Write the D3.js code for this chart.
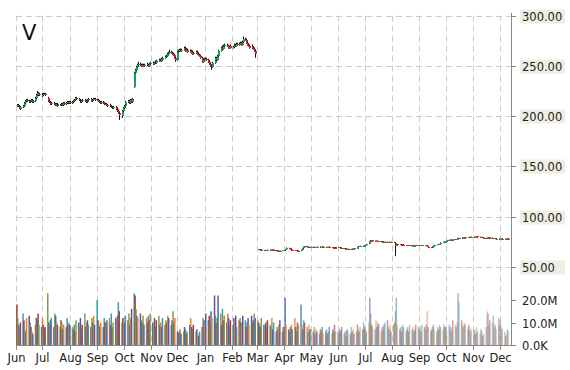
<!DOCTYPE html>
<html>
<head>
<meta charset="utf-8">
<script src="https://cdn.jsdelivr.net/npm/d3@7"></script>
<style>
body { margin: 0; background: #fff; }
svg text { font-family: "DejaVu Sans", Verdana, sans-serif; }
</style>
</head>
<body>
<svg id="chart" width="570" height="370"></svg>
<script>
var symbol = "V";

// trading days run Mon-Fri from Jun 2 2014 to Dec 11 2015
var firstDay = new Date(2014, 5, 2);
var lastDay = new Date(2015, 11, 11);

var priceTicks = [50, 100, 150, 200, 250, 300];
var volumeTicks = [0, 10, 20];
var volumeTickLabels = ["0.0K", "10.0M", "20.0M"];

// one line per month (pre split prices, then post split prices)
var opens = [
  210,211,210,208,207, 209,210,213,215,216, 215,214,215,216,214, 215,218,221,223,221, 222,
  220,221,222,222, 218,215,214,213,212, 213,212,211,212,210, 211,211,212,211,213, 212,213,214,213,
  214, 213,214,215,216,218, 217,216,215,214,215, 216,215,214,215,216, 217,215,216,217,217,
  216,216,215,214,213, 214,213,212,212,211, 210,211,210,209,208, 209,207,206,205,203, 200,205,
  208,210,212, 214,215,213,216,214, 229,243,246,249,251, 252,251,250,251,250, 251,252,251,250,252,
  253,252,253,254,253, 255,256,255,257,256, 258,259,260,262,263, 264,263,262,261,258,
  256,264,265,266,265, 266,268,267,265,266, 264,265,263,264,262, 263,264,262,261,260, 258,254,256,
  257,257, 256,254,252,250,249, 253,256,258,256,260, 265,268,269,267,270, 271,270,268,269,270,
  268,269,271,270,272, 271,272,273,271,274, 277,276,273,271,270, 268,270,268,267,265,
  66.8,67.2,67.0,66.8,67.1, 66.5,66.3,66.0,66.4,66.2, 66.6,66.9,66.5,67.0,66.8, 66.4,66.0,65.7,65.9,65.6, 65.8,66.2,
  66.0,66.3,67.5, 68.8,68.2,67.6,67.0,66.8, 66.5,66.2,65.8,65.6,66.0, 65.5,66.8,68.5,69.8,70.2, 69.6,70.0,69.5,69.7,
  69.2, 69.4,69.8,69.2,69.0,69.5, 70.0,69.6,69.3,69.7,70.1, 69.8,69.5,69.2,69.6,69.9, 69.4,69.0,68.8,69.3,69.1,
  68.9,69.2,68.8,69.0,68.5, 68.2,67.9,68.1,67.6,67.8, 67.4,67.2,67.6,68.0,67.7, 68.3,69.0,69.8,70.5,70.2, 70.8,70.4,
  71.0,71.2,71.8, 72.6,74.8,76.0,75.6,76.2, 75.8,75.3,75.9,75.5,75.0, 75.4,74.7,75.1,74.6,74.2, 74.8,74.5,74.0,74.6,74.3,
  74.6,74.0,72.0,70.9,71.5, 72.3,72.0,71.6,72.2,71.8, 71.3,71.0,71.4,70.9,71.2, 70.8,71.1,70.6,71.0,71.3, 70.9,
  71.2,71.0,71.4,70.8, 71.2,70.9,71.3,70.7,69.8, 69.2,68.8,69.5,70.3,71.0, 71.6,72.2,71.8,72.7,73.4, 74.1,74.8,74.3,
  75.0,75.6, 76.2,76.8,76.4,77.0,76.6, 77.2,76.9,77.5,78.1,78.6, 78.2,78.8,78.4,79.0,78.7, 79.2,79.5,79.1,79.6,79.3,
  79.8,79.4,79.9,79.5,80.1, 79.7,79.2,79.6,79.0,78.6, 78.2,78.8,78.4,79.1,78.7, 78.9,78.3,77.8,78.2,77.6, 77.9,
  77.3,77.0,77.6,78.0, 77.4,77.8,77.2,77.6,78.1
];

var highs = [
  212,212,211,209,210, 211,214,216,217,217, 216,216,217,217,216, 219,222,225,224,223, 223,
  222,223,223,223, 219,216,215,214,214, 214,213,213,213,212, 212,213,213,214,214, 214,215,215,215,
  215, 215,216,217,219,219, 218,217,216,216,217, 217,216,216,217,218, 218,217,218,218,218,
  217,217,216,215,215, 215,214,213,213,212, 212,212,211,210,210, 210,208,207,206,204, 206,209,
  211,213,215, 216,216,217,217,218, 244,247,250,252,254, 253,252,252,252,252, 253,253,252,253,254,
  254,254,255,255,256, 257,257,258,258,259, 260,261,263,264,266, 265,264,263,262,259,
  265,266,267,267,267, 269,269,268,267,267, 266,266,265,265,264, 265,265,263,262,261, 259,257,258,
  258,258, 257,255,253,251,254, 257,259,259,261,266, 269,270,270,271,272, 272,271,270,271,271,
  270,272,272,273,273, 273,274,274,275,279, 278,277,274,272,271, 271,271,269,268,266,
  67.6,67.5,67.3,67.4,67.3, 66.8,66.5,66.7,66.6,66.9, 67.2,67.1,67.3,67.2,67.0, 66.6,66.2,66.1,66.1,66.1, 66.5,66.4,
  66.6,67.8,69.2, 69.0,68.4,67.8,67.2,67.0, 66.7,66.4,66.0,66.3,66.2, 67.0,68.8,70.1,70.6,70.4, 70.3,70.2,69.9,69.9,
  69.7, 70.0,70.0,69.4,69.7,70.2, 70.2,69.8,69.9,70.3,70.3, 70.0,69.7,69.8,70.1,70.1, 69.6,69.2,69.5,69.5,69.3,
  69.5,69.4,69.2,69.2,68.7, 68.4,68.3,68.3,68.0,68.0, 67.6,67.8,68.2,68.2,68.5, 69.2,70.0,70.7,70.7,71.0, 71.0,71.3,
  71.5,72.0,72.8, 75.2,76.5,76.2,76.6,76.4, 76.0,76.1,76.1,75.7,75.7, 75.6,75.4,75.3,74.8,75.1, 75.0,74.7,74.9,74.8,75.0,
  74.9,74.3,72.3,71.8,72.6, 72.5,72.2,72.5,72.4,72.0, 71.5,71.6,71.6,71.4,71.4, 71.3,71.3,71.2,71.5,71.5, 71.4,
  71.5,71.6,71.6,71.4, 71.4,71.5,71.5,70.9,70.0, 69.4,69.7,70.5,71.2,71.8, 72.4,72.4,72.9,73.6,74.3, 75.0,75.0,75.2,
  75.8,76.4, 77.0,77.0,77.2,77.1,77.4, 77.3,77.7,78.3,78.8,78.8, 79.0,79.0,79.2,79.2,79.4, 79.7,79.7,79.8,79.8,80.0,
  80.0,80.1,80.1,80.3,80.3, 79.9,79.8,79.8,79.2,78.8, 79.0,79.0,79.3,79.3,79.1, 79.1,78.5,78.4,78.4,78.1, 78.1,
  77.5,77.8,78.2,78.2, 78.0,78.0,77.8,78.3,78.3
];

var lows = [
  209,209,207,206,206, 208,209,212,214,214, 213,213,214,213,213, 214,217,220,220,220, 219,
  219,220,221,220, 214,213,212,211,211, 211,210,210,209,209, 210,210,210,210,211, 211,212,212,212,
  212, 212,213,214,215,216, 215,214,213,213,214, 214,213,213,214,215, 214,214,215,216,215,
  215,214,213,212,212, 212,211,211,210,209, 209,209,208,207,207, 206,205,204,202,196, 198,204,
  207,209,211, 213,212,212,213,213, 228,242,245,248,250, 250,249,249,249,249, 250,250,249,249,251,
  251,251,252,252,252, 254,254,254,255,255, 257,258,259,261,262, 262,261,260,257,254,
  255,263,264,264,264, 265,266,264,264,263, 263,262,262,261,261, 262,261,260,259,257, 253,253,255,
  256,255, 253,251,249,246,248, 252,255,255,255,259, 264,267,266,266,269, 269,267,267,268,267,
  267,268,269,269,270, 270,271,270,270,273, 275,272,270,269,267, 267,267,266,264,258,
  66.5,66.8,66.6,66.6,66.3, 66.1,65.8,65.8,66.0,66.0, 66.4,66.3,66.3,66.6,66.2, 65.8,65.5,65.5,65.4,65.4, 65.6,65.8,
  65.8,66.1,67.3, 68.0,67.4,66.8,66.6,66.3, 66.0,65.6,65.3,65.4,65.2, 65.3,66.6,68.3,69.6,69.4, 69.4,69.3,69.3,69.0,
  69.0, 69.2,69.0,68.8,68.9,69.3, 69.4,69.1,69.1,69.5,69.6, 69.3,69.0,69.0,69.4,69.2, 68.8,68.6,68.6,68.9,68.7,
  68.7,68.6,68.6,68.3,68.0, 67.7,67.7,67.4,67.4,67.2, 66.9,67.0,67.4,67.5,67.5, 68.1,68.8,69.6,70.0,70.0, 70.2,70.2,
  70.8,71.0,71.6, 72.4,74.5,75.3,75.4,75.5, 75.0,75.1,75.3,74.8,74.8, 74.5,74.5,74.4,74.0,74.0, 74.3,73.8,73.8,74.1,74.1,
  73.9,71.7,60.5,70.6,71.3, 71.8,71.4,71.4,71.6,71.1, 70.8,70.8,70.7,70.7,70.6, 70.6,70.4,70.4,70.8,70.7, 70.7,
  70.8,70.8,70.6,70.6, 70.7,70.7,70.5,69.6,69.0, 68.5,68.6,69.3,70.1,70.8, 71.4,71.6,71.6,72.5,73.2, 73.9,74.1,74.1,
  74.8,75.4, 76.0,76.2,76.2,76.4,76.4, 76.7,76.7,77.3,77.9,78.0, 78.0,78.2,78.2,78.5,78.5, 79.0,78.9,78.9,79.1,79.1,
  79.2,79.2,79.3,79.3,79.5, 79.0,79.0,78.8,78.4,78.0, 78.0,78.2,78.2,78.5,78.5, 78.1,77.6,77.6,77.4,77.4, 77.1,
  76.8,76.8,77.4,77.2, 77.2,77.0,77.0,77.4,77.5
];

var closes = [
  211,210,208,207,209, 210,213,215,216,215, 214,215,216,214,215, 218,221,223,221,222, 220,
  221,222,222,221, 215,214,213,212,213, 212,211,212,210,211, 211,212,211,213,212, 213,214,213,214,
  213, 214,215,216,218,217, 216,215,214,215,216, 215,214,215,216,217, 215,216,217,217,216,
  216,215,214,213,214, 213,212,212,211,210, 211,210,209,208,209, 207,206,205,203,201, 205,208,
  210,212,214, 215,213,216,214,217, 243,246,249,251,252, 251,250,251,250,251, 252,251,250,252,253,
  252,253,254,253,255, 256,255,257,256,258, 259,260,262,263,264, 263,262,261,258,256,
  264,265,266,265,266, 268,267,265,266,264, 265,263,264,262,263, 264,262,261,260,258, 254,256,257,
  257,256, 254,252,250,249,253, 256,258,256,260,265, 268,269,267,270,271, 270,268,269,270,268,
  269,271,270,272,271, 272,273,271,274,277, 276,273,271,270,268, 270,268,267,265,262,
  67.2,67.0,66.8,67.1,66.5, 66.3,66.0,66.4,66.2,66.6, 66.9,66.5,67.0,66.8,66.4, 66.0,65.7,65.9,65.6,65.8, 66.2,66.0,
  66.3,67.5,68.8, 68.2,67.6,67.0,66.8,66.5, 66.2,65.8,65.6,66.0,65.5, 66.8,68.5,69.8,70.2,69.6, 70.0,69.5,69.7,69.2,
  69.4, 69.8,69.2,69.0,69.5,70.0, 69.6,69.3,69.7,70.1,69.8, 69.5,69.2,69.6,69.9,69.4, 69.0,68.8,69.3,69.1,68.9,
  69.2,68.8,69.0,68.5,68.2, 67.9,68.1,67.6,67.8,67.4, 67.2,67.6,68.0,67.7,68.3, 69.0,69.8,70.5,70.2,70.8, 70.4,71.0,
  71.2,71.8,72.5, 74.8,76.0,75.6,76.2,75.8, 75.3,75.9,75.5,75.0,75.4, 74.7,75.1,74.6,74.2,74.8, 74.5,74.0,74.6,74.3,74.7,
  74.2,72.0,70.8,71.5,72.3, 72.0,71.6,72.2,71.8,71.3, 71.0,71.4,70.9,71.2,70.8, 71.1,70.6,71.0,71.3,70.9, 71.2,
  71.0,71.4,70.8,71.2, 70.9,71.3,70.7,69.8,69.2, 68.8,69.5,70.3,71.0,71.6, 72.2,71.8,72.7,73.4,74.1, 74.8,74.3,75.0,
  75.6,76.2, 76.8,76.4,77.0,76.6,77.2, 76.9,77.5,78.1,78.6,78.2, 78.8,78.4,79.0,78.7,79.2, 79.5,79.1,79.6,79.3,79.8,
  79.4,79.9,79.5,80.1,79.7, 79.2,79.6,79.0,78.6,78.2, 78.8,78.4,79.1,78.7,78.9, 78.3,77.8,78.2,77.6,77.9, 77.3,
  77.0,77.6,78.0,77.4, 77.8,77.2,77.6,78.1,77.7
];

// volume in millions of shares
var volumes = [
  18,12,9,8,10, 14,11,7,6,12, 13,10,8,6,5, 9,12,11,14,9, 8,
  12,9,7,8, 23,10,9,11,12, 8,14,13,10,9, 8,11,10,7,9, 8,12,9,10,
  9, 8,7,9,6,11, 10,8,12,7,9, 14,8,10,11,9, 8,12,10,13,9,
  20,11,9,8,10, 8,12,10,9,11, 12,9,14,8,10, 12,11,13,19,15, 10,12,
  12,10,13, 11,14,9,12,16, 23,22,16,13,12, 14,11,10,13,9, 12,10,13,11,14,
  10,9,12,8,11, 13,9,10,8,12, 9,11,10,13,12, 9,11,15,10,12,
  6,5,6,7,5, 6,8,7,5,6, 9,12,8,7,9, 6,7,5,4,6, 8,12,11,
  8,14, 11,13,10,15,12, 22,13,10,12,22, 14,9,16,11,13, 10,14,12,9,11,
  9,12,10,13,8, 11,12,10,9,13, 11,8,10,12,9, 13,10,11,14,12,
  11,10,9,8,12, 9,7,10,8,11, 9,8,12,7,10, 6,8,7,9,11, 6,8,
  8,21,9, 7,6,8,9,7, 12,8,6,10,9, 18,9,7,11,10, 8,6,9,7,
  7, 6,8,5,7,6, 5,7,6,8,5, 6,7,5,6,8, 5,7,6,9,6,
  6,5,7,6,8, 5,6,4,7,6, 5,8,6,7,5, 6,9,7,6,8, 7,10,
  8,7,6, 10,21,14,9,8, 7,11,8,10,9, 6,8,7,9,10, 11,8,7,9,6,
  9,10,15,21,9, 7,8,6,9,8, 6,7,8,6,9, 7,8,6,7,9, 8,
  7,8,6,9, 8,7,9,15,8, 6,7,8,9,7, 6,8,7,9,8, 7,9,8,
  8,6, 9,7,8,6,11, 9,8,10,23,19, 11,9,8,10,9, 7,9,8,6,7,
  7,6,5,8,6, 5,7,6,4,5, 8,15,14,9,11, 10,13,8,9,7, 12,
  9,11,8,7, 6,4,5,7,6
];

var volumeColors = ["#a83c38", "#82a043", "#3e6fae", "#e8822f", "#6b4f91", "#3a9ab8"];
var upColor = "#10a55a";
var downColor = "#ec1c24";

var tradingDays = d3.timeDay.range(firstDay, d3.timeDay.offset(lastDay, 1))
    .filter(d => d.getDay() !== 0 && d.getDay() !== 6);

[opens, highs, lows, closes, volumes].forEach(a => {
    if (a.length !== tradingDays.length) throw new Error("length " + a.length + " vs " + tradingDays.length);
});

var data = tradingDays.map((d, i) => ({
    date: d, open: opens[i], high: highs[i], low: lows[i], close: closes[i], volume: volumes[i]
}));

var plot = {left: 16, right: 511, top: 15.5, bottom: 345};

var xScale = d3.scaleTime()
    .domain([new Date(2014, 5, 1), new Date(2015, 11, 14)])
    .range([plot.left, plot.right]);

var yPrice = d3.scaleLinear()
    .domain([50, 300])
    .range([266.75, plot.top]);

var yVolume = d3.scaleLinear()
    .domain([0, 20])
    .range([plot.bottom, 300]);

// bars fade out in the later part of the chart
var volumeOpacity = d3.scaleTime()
    .domain([new Date(2015, 2, 10), new Date(2015, 5, 1), new Date(2015, 11, 11)])
    .range([1, 0.6, 0.42])
    .clamp(true);

var svg = d3.select("#chart");
var monthTicks = d3.timeMonth.range(new Date(2014, 5, 1), new Date(2015, 11, 14));

// grid
var grid = svg.append("g").attr("stroke", "#cccccc").attr("stroke-dasharray", "6,4");
grid.selectAll(".vgrid").data(monthTicks).join("line")
    .attr("x1", d => Math.round(xScale(d)) + 0.5)
    .attr("x2", d => Math.round(xScale(d)) + 0.5)
    .attr("y1", plot.top)
    .attr("y2", plot.bottom);
grid.selectAll(".hgrid").data(priceTicks).join("line")
    .attr("x1", plot.left)
    .attr("x2", plot.right)
    .attr("y1", d => Math.round(yPrice(d)) + 0.5)
    .attr("y2", d => Math.round(yPrice(d)) + 0.5);

// volume
svg.append("g").selectAll("rect").data(data).join("rect")
    .attr("x", d => xScale(d.date) - 0.75)
    .attr("width", 1.5)
    .attr("y", d => yVolume(d.volume))
    .attr("height", d => plot.bottom - yVolume(d.volume))
    .attr("fill", (d, i) => volumeColors[i % volumeColors.length])
    .attr("fill-opacity", d => volumeOpacity(d.date));

// candles: wick first, coloured body on top
var candles = svg.append("g").selectAll("g").data(data).join("g");
candles.append("line")
    .attr("x1", d => Math.round(xScale(d.date)) + 0.5)
    .attr("x2", d => Math.round(xScale(d.date)) + 0.5)
    .attr("y1", d => yPrice(d.high))
    .attr("y2", d => yPrice(d.low))
    .attr("stroke", "#111")
    .attr("stroke-width", 1);
candles.append("rect")
    .attr("x", d => Math.round(xScale(d.date)))
    .attr("width", 2)
    .attr("y", d => Math.round(yPrice(Math.max(d.open, d.close))))
    .attr("height", d => Math.max(1, Math.round(Math.abs(yPrice(d.open) - yPrice(d.close)))))
    .attr("fill", d => d.close >= d.open ? upColor : downColor);

// right axis
var axisColor = "#888";
svg.append("line")
    .attr("x1", plot.right + 0.5).attr("x2", plot.right + 0.5)
    .attr("y1", 13).attr("y2", plot.bottom)
    .attr("stroke", axisColor);

var priceAxis = svg.append("g").selectAll("g").data(priceTicks).join("g")
    .attr("transform", d => `translate(0, ${Math.round(yPrice(d)) + 0.5})`);
priceAxis.append("line")
    .attr("x1", plot.right).attr("x2", plot.right + 5)
    .attr("stroke", axisColor);
priceAxis.append("rect")
    .attr("x", 520).attr("y", -7).attr("width", 45).attr("height", 14)
    .attr("fill", "#f0eee2");
priceAxis.append("text")
    .attr("x", 522).attr("dy", "0.35em")
    .attr("font-size", 11.5).attr("fill", "#222")
    .text(d => d3.format(".2f")(d));

var volAxis = svg.append("g").selectAll("g").data(volumeTicks).join("g")
    .attr("transform", d => `translate(0, ${Math.round(yVolume(d)) + 0.5})`);
volAxis.append("line")
    .attr("x1", plot.right).attr("x2", plot.right + 5)
    .attr("stroke", axisColor);
volAxis.append("text")
    .attr("x", 522).attr("dy", "0.35em")
    .attr("font-size", 11.5).attr("fill", "#222")
    .text((d, i) => volumeTickLabels[i]);

// bottom axis
svg.append("line")
    .attr("x1", plot.left).attr("x2", plot.right)
    .attr("y1", plot.bottom + 0.5).attr("y2", plot.bottom + 0.5)
    .attr("stroke", axisColor);
var timeAxis = svg.append("g").selectAll("g").data(monthTicks).join("g")
    .attr("transform", d => `translate(${Math.round(xScale(d)) + 0.5}, ${plot.bottom})`);
timeAxis.append("line")
    .attr("y1", 0).attr("y2", 5)
    .attr("stroke", axisColor);
timeAxis.append("text")
    .attr("y", 17).attr("text-anchor", "middle")
    .attr("font-size", 11.5).attr("fill", "#222")
    .text(d => d3.timeFormat("%b")(d));

// symbol
svg.append("text")
    .attr("x", 22).attr("y", 40)
    .attr("font-size", 21).attr("fill", "#111")
    .text(symbol);
</script>
</body>
</html>
